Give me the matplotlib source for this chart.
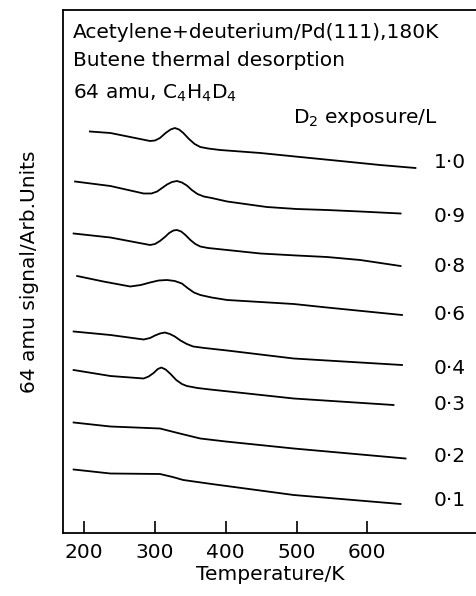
import matplotlib
matplotlib.use('Agg')
import matplotlib.pyplot as plt

# Thermal desorption traces, 64 amu (C4H4D4)
# temperature in K, signal in arbitrary units (curves offset as in the original)
T_10 = [208, 237, 265, 293, 300, 307, 315, 322, 328, 334, 340, 348, 356, 364, 375, 392, 449, 505, 562, 618, 668]
S_10 = [80.3, 80.0, 79.2, 78.4, 78.5, 79.0, 80.0, 80.7, 81.0, 80.7, 80.0, 78.8, 77.8, 77.2, 76.9, 76.6, 76.0, 75.2, 74.4, 73.6, 73.0]

T_09 = [187, 237, 284, 295, 303, 310, 317, 324, 331, 338, 345, 352, 360, 369, 380, 402, 458, 500, 543, 590, 647]
S_09 = [70.3, 69.4, 67.9, 67.9, 68.3, 69.0, 69.7, 70.2, 70.4, 70.1, 69.5, 68.6, 67.8, 67.3, 67.0, 66.3, 65.2, 64.8, 64.6, 64.3, 63.9]

T_08 = [185, 237, 293, 300, 307, 314, 320, 326, 331, 337, 343, 350, 357, 364, 375, 402, 449, 500, 543, 590, 647]
S_08 = [59.9, 59.1, 57.6, 57.8, 58.4, 59.2, 60.0, 60.5, 60.6, 60.3, 59.6, 58.6, 57.8, 57.3, 57.0, 56.6, 55.9, 55.5, 55.2, 54.6, 53.4]

T_06 = [190, 227, 265, 280, 293, 305, 317, 328, 338, 346, 355, 364, 380, 402, 496, 543, 649]
S_06 = [51.4, 50.3, 49.3, 49.6, 50.1, 50.5, 50.6, 50.4, 49.9, 49.0, 48.1, 47.6, 47.1, 46.6, 45.8, 45.1, 43.6]

T_04 = [185, 237, 284, 293, 300, 307, 314, 321, 328, 336, 345, 354, 370, 402, 496, 590, 649]
S_04 = [40.3, 39.6, 38.7, 39.0, 39.5, 39.9, 40.1, 39.8, 39.3, 38.5, 37.8, 37.3, 37.0, 36.5, 34.9, 34.1, 33.6]

T_03 = [185, 237, 284, 291, 298, 304, 309, 315, 322, 330, 338, 345, 360, 378, 496, 637]
S_03 = [32.6, 31.4, 30.9, 31.3, 32.0, 32.8, 33.1, 32.7, 31.8, 30.6, 29.8, 29.4, 29.0, 28.7, 26.9, 25.6]

T_02 = [185, 237, 307, 335, 364, 400, 496, 654]
S_02 = [22.1, 21.3, 20.9, 19.9, 18.9, 18.3, 16.9, 14.9]

T_01 = [185, 237, 307, 325, 340, 380, 496, 647]
S_01 = [12.7, 11.9, 11.8, 11.2, 10.6, 9.8, 7.6, 5.8]

exposures = ['1·0', '0·9', '0·8', '0·6', '0·4', '0·3', '0·2', '0·1']
label_y = [74.0, 63.4, 53.4, 43.6, 33.0, 25.6, 15.2, 6.6]
xticks = [200, 300, 400, 500, 600]

curves = [(T_10, S_10), (T_09, S_09), (T_08, S_08), (T_06, S_06),
          (T_04, S_04), (T_03, S_03), (T_02, S_02), (T_01, S_01)]

plt.rcParams['font.family'] = 'DejaVu Sans'
fs = 14.5
fig = plt.figure(figsize=(4.77, 5.96), dpi=100)
ax = fig.add_axes([63/477, 63/596, 1 - 63/477, 523/596])

for T, S in curves:
    ax.plot(T, S, color='black', lw=1.3)

for lab, yv in zip(exposures, label_y):
    ax.text(716, yv, lab, fontsize=fs, ha='center', va='center')

ax.text(184, 100.2, 'Acetylene+deuterium/Pd(111),180K', fontsize=fs, va='center')
ax.text(184, 94.4, 'Butene thermal desorption', fontsize=fs, va='center')
ax.text(184, 88.0, '64 amu, C$_4$H$_4$D$_4$', fontsize=fs, va='center')
ax.text(495, 83.0, 'D$_2$ exposure/L', fontsize=fs, va='center')

ax.set_xlim(170, 755)
ax.set_ylim(0, 104.6)
ax.set_xticks(xticks)
ax.set_yticks([])
ax.tick_params(axis='x', direction='in', length=8.5, width=1.2, labelsize=fs, pad=7)
ax.spines['right'].set_visible(False)
for s in ['left', 'top', 'bottom']:
    ax.spines[s].set_linewidth(1.3)
ax.set_xlabel('Temperature/K', fontsize=fs, labelpad=2)
ax.set_ylabel('64 amu signal/Arb.Units', fontsize=fs, labelpad=17)

fig.savefig('out.png', dpi=100)
